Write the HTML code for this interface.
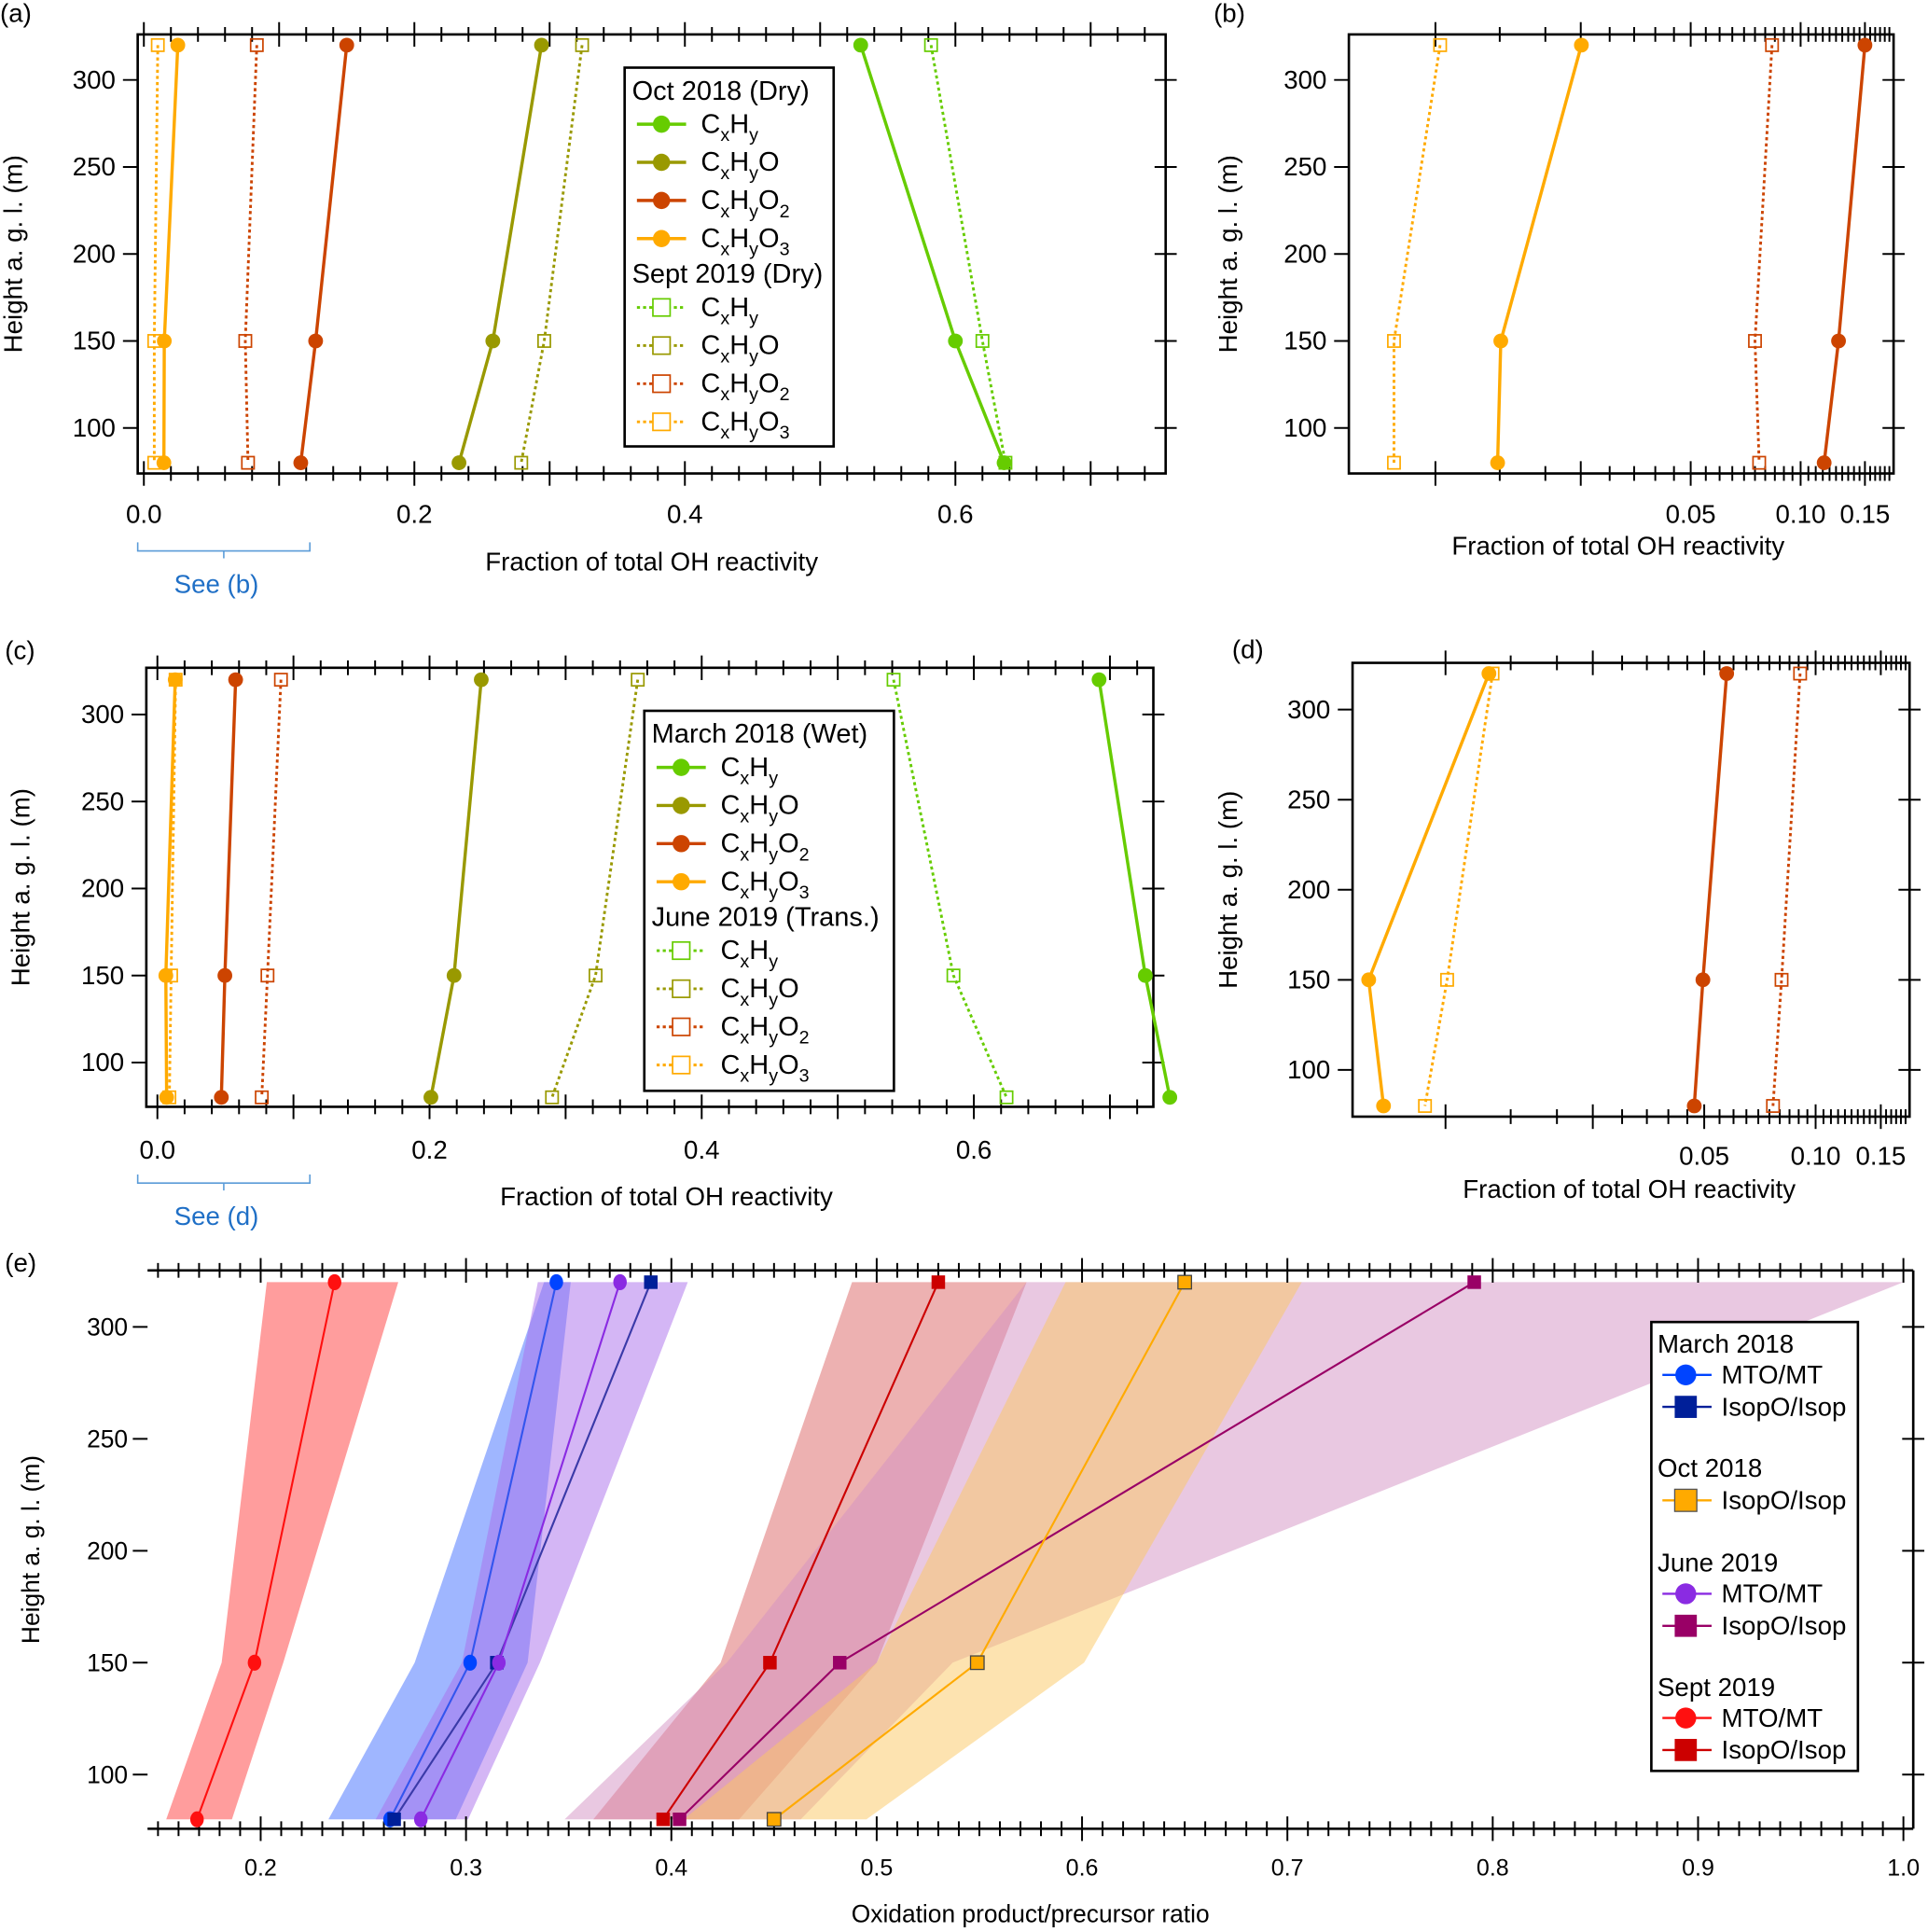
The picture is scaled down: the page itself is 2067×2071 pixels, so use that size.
<!DOCTYPE html>
<html><head><meta charset="utf-8"><style>
html,body{margin:0;padding:0;background:#fff}
svg{display:block}
text{font-family:"Liberation Sans",Arial,sans-serif;fill:#000}
</style></head><body>
<svg id="fig" width="2067" height="2071" viewBox="0 0 1568 1571" preserveAspectRatio="none" xmlns="http://www.w3.org/2000/svg"></svg>
<script>
// ---------- data ----------
const heights = [320, 150, 80];
// Panels a/b : Oct 2018 (solid) & Sept 2019 (dotted)
const octCxHy = [0.530, 0.600, 0.636];
const octCxHyO = [0.294, 0.258, 0.233];
const octCxHyO2 = [0.150, 0.127, 0.116];
const octCxHyO3 = [0.0251, 0.0151, 0.0148];
const sepCxHy = [0.582, 0.620, 0.637];
const sepCxHyO = [0.324, 0.296, 0.279];
const sepCxHyO2 = [0.0835, 0.075, 0.077];
const sepCxHyO3 = [0.0103, 0.0077, 0.0077];
// Panels c/d : March 2018 (solid) & June 2019 (dotted)
const marCxHy = [0.692, 0.726, 0.744];
const marCxHyO = [0.238, 0.218, 0.201];
const marCxHyO2 = [0.0575, 0.0496, 0.047];
const marCxHyO3 = [0.0131, 0.0062, 0.0068];
const junCxHy = [0.541, 0.585, 0.624];
const junCxHyO = [0.353, 0.322, 0.290];
const junCxHyO2 = [0.0908, 0.0809, 0.0767];
const junCxHyO3 = [0.0134, 0.0101, 0.0088];
// Panel e : ratios
const marMTO = [0.344, 0.302, 0.263];
const marIsop = [0.390, 0.315, 0.265];
const octIsop = [0.650, 0.549, 0.450];
const junMTO = [0.375, 0.316, 0.278];
const junIsop = [0.791, 0.482, 0.404];
const sepMTO = [0.236, 0.197, 0.169];
const sepIsop = [0.530, 0.448, 0.396];
// uncertainty bands [low], [high]
const sepMTOlo = [0.203, 0.181, 0.154], sepMTOhi = [0.267, 0.211, 0.186];
const marMTOlo = [0.338, 0.275, 0.233], marMTOhi = [0.351, 0.330, 0.295];
const junMTOlo = [0.335, 0.298, 0.256], junMTOhi = [0.408, 0.336, 0.301];
const sepIsoplo = [0.488, 0.424, 0.362], sepIsophi = [0.573, 0.500, 0.433];
const junIsoplo = [0.573, 0.427, 0.348], junIsophi = [1.0, 0.537, 0.463];
const octIsoplo = [0.592, 0.500, 0.406], octIsophi = [0.707, 0.601, 0.495];
const linTicksA = [0, 0.2, 0.4, 0.6];
const logTickLabels = [0.05, 0.10, 0.15];
const yTicks = [100, 150, 200, 250, 300];
const eTicks = [0.2, 0.3, 0.4, 0.5, 0.6, 0.7, 0.8, 0.9, 1.0];

// ---------- helpers ----------
const NS = "http://www.w3.org/2000/svg";
const svg = document.getElementById('fig');
function mk(tag, attrs, parent) {
  const e = document.createElementNS(NS, tag);
  for (const k in attrs) e.setAttribute(k, attrs[k]);
  (parent || svg).appendChild(e);
  return e;
}
function txt(x, y, s, size, anchor, parent, color) {
  const t = mk('text', {x: x, y: y, 'font-size': size, 'text-anchor': anchor || 'middle'}, parent);
  if (color) t.style.fill = color;
  t.textContent = s;
  return t;
}
function chem(x, y, n, size, parent) {
  const t = mk('text', {x: x, y: y, 'font-size': size}, parent);
  const parts = [['C', 0], ['x', 1], ['H', 0], ['y', 1]];
  if (n >= 1) parts.push(['O', 0]);
  if (n >= 2) parts.push([String(n), 1]);
  let shifted = false;
  for (const p of parts) {
    const s = document.createElementNS(NS, 'tspan');
    s.textContent = p[0];
    if (p[1]) {
      s.setAttribute('font-size', size * 0.68);
      if (!shifted) { s.setAttribute('dy', size * 0.3); shifted = true; }
    } else if (shifted) {
      s.setAttribute('dy', -size * 0.3); shifted = false;
    }
    t.appendChild(s);
  }
  return t;
}
const COL = {hy: '#66cc00', o: '#999900', o2: '#cc4400', o3: '#ffaa00'};

function profilePanel(P) {
  const g = mk('g', {});
  
  
  const X = P.x, Y = v => P.y300 + (300 - v) * P.ys;
  for (const t of P.minor) {
    const x = X(t);
    const len = P.isMajor(t) ? 10 : 6;
    mk('line', {x1: x, x2: x, y1: P.top - len, y2: P.top + len, stroke: '#000', 'stroke-width': 1.5}, g);
    mk('line', {x1: x, x2: x, y1: P.bot - len, y2: P.bot + len, stroke: '#000', 'stroke-width': 1.5}, g);
  }
  for (const h of yTicks) {
    const y = Y(h);
    mk('line', {x1: P.left - 12, x2: P.left, y1: y, y2: y, stroke: '#000', 'stroke-width': 1.5}, g);
    mk('line', {x1: P.right - 9, x2: P.right + 9, y1: y, y2: y, stroke: '#000', 'stroke-width': 1.5}, g);
    const lab = txt(P.left - 18, y + 7, String(h), 21, 'end', g);
    
    
  }
  for (const t of P.labels) {
    const lab = txt(X(t), P.labY, P.fmt(t), 21, 'middle', g);
    
    
  }
  const frame = mk('rect', {x: P.left, y: P.top, width: P.right - P.left, height: P.bot - P.top, fill: 'none', stroke: '#000', 'stroke-width': 2}, g);
  
  
  const yl = txt(0, 0, 'Height a. g. l. (m)', 21, 'middle', g);
  yl.setAttribute('transform', `translate(${P.ylx},${(P.top + P.bot) / 2}) rotate(-90)`);
  
  
  const xl = txt(P.xlx, P.xly, 'Fraction of total OH reactivity', 21, 'middle', g);
  
  
  const pl = txt(P.plx, P.ply, P.plabel, 21, 'start', g);
  
  
  for (const s of P.series) {
    const pts = s.v.map((v, i) => [X(v), Y(heights[i])]);
    const line = mk('polyline', {points: pts.map(p => p.join(',')).join(' '), fill: 'none', stroke: s.c, 'stroke-width': s.dot ? 2.2 : 2.6, 'stroke-dasharray': s.dot ? '2.5,2.5' : 'none'}, g);
    
    
    for (const p of pts) {
      let m;
      if (s.dot) m = mk('rect', {x: p[0] - 5, y: p[1] - 5, width: 10, height: 10, fill: 'none', stroke: s.c, 'stroke-width': 1.3}, g);
      else m = mk('circle', {cx: p[0], cy: p[1], r: 6, fill: s.c}, g);
      
      
    }
  }
  return g;
}
function legendProfile(x, y, w, h, t1, t2, dy) {
  const g = mk('g', {});
  
  
  mk('rect', {x: x, y: y, width: w, height: h, fill: '#fff', stroke: '#000', 'stroke-width': 2}, g);
  const cols = [COL.hy, COL.o, COL.o2, COL.o3];
  let yy = y + 26;
  [[t1, false], [t2, true]].forEach(([title, dot]) => {
    const tt = txt(x + 6, yy, title, 22, 'start', g);
    
    
    yy += dy;
    for (let i = 0; i < 4; i++) {
      const ly = yy - 7;
      mk('line', {x1: x + 10, x2: x + 50, y1: ly, y2: ly, stroke: cols[i], 'stroke-width': dot ? 2.2 : 2.6, 'stroke-dasharray': dot ? '2.5,2.5' : 'none'}, g);
      if (dot) mk('rect', {x: x + 23, y: ly - 7, width: 14, height: 14, fill: '#fff', stroke: cols[i], 'stroke-width': 1.3}, g);
      else mk('circle', {cx: x + 30, cy: ly, r: 7, fill: cols[i]}, g);
      const c = chem(x + 62, yy, i, 22, g);
      
      
      yy += 31;
    }
    yy -= 2;
  });
}
function bracket(x1, x2, y, label, ty) {
  const g = mk('g', {});
  
  
  const xm = (x1 + x2) / 2;
  mk('path', {d: `M${x1},${y - 7} L${x1},${y} L${x2},${y} L${x2},${y - 7} M${xm},${y} L${xm},${y + 6}`, fill: 'none', stroke: '#5a9bd8', 'stroke-width': 1.2}, g);
  txt(xm - 6, ty, label, 21, 'middle', g, '#1f6fc6');
}

// ---------- panels a/c ----------
const minorLin = []; for (let i = 0; i <= 37; i++) minorLin.push(+(i * 0.02).toFixed(2));
const isMajLin = t => Math.abs(t * 10 - Math.round(t * 10)) < 1e-6;
const fmt1 = t => t.toFixed(1);
const xa = v => 117 + v * 1100;
profilePanel({name: 'panel-a', x: xa, y300: 65, ys: 1.415, left: 112, right: 948, top: 28, bot: 385,
  minor: minorLin, isMajor: isMajLin, labels: linTicksA, fmt: fmt1, labY: 425, ylx: 18, xlx: 530, xly: 464, plx: 0, ply: 18, plabel: '(a)',
  series: [
    {n: 'sept2019-cxhy', v: sepCxHy, c: COL.hy, dot: true}, {n: 'sept2019-cxhyo', v: sepCxHyO, c: COL.o, dot: true},
    {n: 'sept2019-cxhyo2', v: sepCxHyO2, c: COL.o2, dot: true}, {n: 'sept2019-cxhyo3', v: sepCxHyO3, c: COL.o3, dot: true},
    {n: 'oct2018-cxhy', v: octCxHy, c: COL.hy}, {n: 'oct2018-cxhyo', v: octCxHyO, c: COL.o},
    {n: 'oct2018-cxhyo2', v: octCxHyO2, c: COL.o2}, {n: 'oct2018-cxhyo3', v: octCxHyO3, c: COL.o3}]});
legendProfile(508, 55, 170, 308, 'Oct 2018 (Dry)', 'Sept 2019 (Dry)', 27);
bracket(112, 252, 448, 'See (b)', 482);

const xc = v => 128 + v * 1106.7;
profilePanel({name: 'panel-c', x: xc, y300: 581, ys: 1.415, left: 119, right: 938, top: 543, bot: 900,
  minor: minorLin.filter(t => t <= 0.73), isMajor: isMajLin, labels: linTicksA, fmt: fmt1, labY: 942, ylx: 24, xlx: 542, xly: 980, plx: 4, ply: 536, plabel: '(c)',
  series: [
    {n: 'june2019-cxhy', v: junCxHy, c: COL.hy, dot: true}, {n: 'june2019-cxhyo', v: junCxHyO, c: COL.o, dot: true},
    {n: 'june2019-cxhyo2', v: junCxHyO2, c: COL.o2, dot: true}, {n: 'june2019-cxhyo3', v: junCxHyO3, c: COL.o3, dot: true},
    {n: 'march2018-cxhy', v: marCxHy, c: COL.hy}, {n: 'march2018-cxhyo', v: marCxHyO, c: COL.o},
    {n: 'march2018-cxhyo2', v: marCxHyO2, c: COL.o2}, {n: 'march2018-cxhyo3', v: marCxHyO3, c: COL.o3}]});
legendProfile(524, 578, 203, 309, 'March 2018 (Wet)', 'June 2019 (Trans.)', 27);
bracket(112, 252, 962, 'See (d)', 996);

// ---------- panels b/d (log) ----------
const logMinor = []; for (let i = 2; i <= 35; i++) logMinor.push(+(i * 0.005).toFixed(3));
const isMajLog = t => [0.01, 0.025, 0.05, 0.1, 0.15].some(m => Math.abs(m - t) < 1e-6);
const fmt2 = t => t.toFixed(2);
const xb = v => 1375 + 297 * (Math.log10(v) - Math.log10(0.05));
profilePanel({name: 'panel-b', x: xb, y300: 65, ys: 1.415, left: 1097, right: 1540, top: 28, bot: 385,
  minor: logMinor, isMajor: isMajLog, labels: logTickLabels, fmt: fmt2, labY: 425, ylx: 1006, xlx: 1316, xly: 451, plx: 987, ply: 18, plabel: '(b)',
  series: [
    {n: 'sept2019-cxhyo2', v: sepCxHyO2, c: COL.o2, dot: true}, {n: 'sept2019-cxhyo3', v: sepCxHyO3, c: COL.o3, dot: true},
    {n: 'oct2018-cxhyo2', v: octCxHyO2, c: COL.o2}, {n: 'oct2018-cxhyo3', v: octCxHyO3, c: COL.o3}]});
const xd = v => 1386 + 301 * (Math.log10(v) - Math.log10(0.05));
profilePanel({name: 'panel-d', x: xd, y300: 577, ys: 1.465, left: 1100, right: 1553, top: 539, bot: 908,
  minor: logMinor, isMajor: isMajLog, labels: logTickLabels, fmt: fmt2, labY: 947, ylx: 1006, xlx: 1325, xly: 974, plx: 1002, ply: 535, plabel: '(d)',
  series: [
    {n: 'june2019-cxhyo2', v: junCxHyO2, c: COL.o2, dot: true}, {n: 'june2019-cxhyo3', v: junCxHyO3, c: COL.o3, dot: true},
    {n: 'march2018-cxhyo2', v: marCxHyO2, c: COL.o2}, {n: 'march2018-cxhyo3', v: marCxHyO3, c: COL.o3}]});

// ---------- panel e ----------
(function () {
  const g = mk('g', {});
  
  
  const X = v => -122 + v * 1670, Y = h => 1079 + (300 - h) * 1.82;
  const L = 120, R = 1556, T = 1033, B = 1487;
  function band(lo, hi, fill, name) {
    const pts = lo.map((v, i) => [X(v), Y(heights[i])]).concat(hi.map((v, i) => [X(v), Y(heights[i])]).reverse());
    const p = mk('polygon', {points: pts.map(q => q.join(',')).join(' '), fill: fill}, g);
    
    
  }
  band(sepMTOlo, sepMTOhi, 'rgba(255,60,60,0.5)', 'sept2019-mto-band');
  band(marMTOlo, marMTOhi, 'rgba(64,110,255,0.5)', 'march2018-mto-band');
  band(junMTOlo, junMTOhi, 'rgba(170,110,235,0.5)', 'june2019-mto-band');
  band(sepIsoplo, sepIsophi, 'rgba(220,100,100,0.5)', 'sept2019-isop-band');
  band(junIsoplo, junIsophi, 'rgba(212,145,196,0.5)', 'june2019-isop-band');
  band(octIsoplo, octIsophi, 'rgba(251,200,97,0.5)', 'oct2018-isop-band');
  for (let i = 15; i <= 100; i++) {
    const t = i / 100, x = X(t), maj = i % 10 === 0, len = maj ? 10 : 6;
    mk('line', {x1: x, x2: x, y1: T - len, y2: T + len, stroke: '#000', 'stroke-width': 1.5}, g);
    mk('line', {x1: x, x2: x, y1: B - len, y2: B + len, stroke: '#000', 'stroke-width': 1.5}, g);
  }
  for (const t of eTicks) {
    const lab = txt(X(t), 1525, t.toFixed(1), 19, 'middle', g);
    
    
  }
  for (const h of yTicks) {
    const y = Y(h);
    mk('line', {x1: L - 12, x2: L, y1: y, y2: y, stroke: '#000', 'stroke-width': 1.5}, g);
    mk('line', {x1: R - 9, x2: R + 9, y1: y, y2: y, stroke: '#000', 'stroke-width': 1.5}, g);
    const lab = txt(L - 16, y + 7, String(h), 20, 'end', g);
    
    
  }
  mk('line', {x1: L, x2: R, y1: T, y2: T, stroke: '#000', 'stroke-width': 2}, g);
  mk('line', {x1: L, x2: R, y1: B, y2: B, stroke: '#000', 'stroke-width': 2}, g);
  mk('line', {x1: R, x2: R, y1: T, y2: B, stroke: '#000', 'stroke-width': 2}, g);
  const series = [
    {n: 'sept2019-mto', v: sepMTO, c: '#ff1010', sq: false},
    {n: 'march2018-mto', v: marMTO, c: '#3355ee', mc: '#0044ff', sq: false},
    {n: 'march2018-isop', v: marIsop, c: '#3a3aa8', mc: '#001f99', sq: true},
    {n: 'june2019-mto', v: junMTO, c: '#8a2be2', sq: false},
    {n: 'june2019-isop', v: junIsop, c: '#990066', sq: true},
    {n: 'oct2018-isop', v: octIsop, c: '#ffaa00', sq: true, outline: true},
    {n: 'sept2019-isop', v: sepIsop, c: '#cc0000', sq: true}];
  for (const s of series) {
    const pts = s.v.map((v, i) => [X(v), Y(heights[i])]);
    const line = mk('polyline', {points: pts.map(p => p.join(',')).join(' '), fill: 'none', stroke: s.c, 'stroke-width': 1.6}, g);
    
    
    for (const p of pts) {
      let m;
      if (s.sq) m = mk('rect', {x: p[0] - 5.5, y: p[1] - 5.5, width: 11, height: 11, fill: s.mc || s.c, stroke: s.outline ? '#444' : 'none', 'stroke-width': 1}, g);
      else m = mk('ellipse', {cx: p[0], cy: p[1], rx: 5.5, ry: 6.5, fill: s.mc || s.c}, g);
      
      
    }
  }
  const yl = txt(0, 0, 'Height a. g. l. (m)', 20, 'middle', g);
  yl.setAttribute('transform', `translate(32,${(T + B) / 2}) rotate(-90)`);
  
  
  const xl = txt(838, 1563, 'Oxidation product/precursor ratio', 20, 'middle', g);
  
  
  const pl = txt(4, 1034, '(e)', 21, 'start', g);
  
  
  const lg = mk('g', {}, g);
  
  
  mk('rect', {x: 1343, y: 1075, width: 168, height: 365, fill: '#fff', stroke: '#000', 'stroke-width': 2}, lg);
  const items = [
    ['March 2018', 1100], ['MTO/MT', 1125, '#0044ff', false, '#0044ff'], ['IsopO/Isop', 1151, '#001f99', true, '#001f99'],
    ['Oct 2018', 1201], ['IsopO/Isop', 1227, '#ffaa00', true, '#ffaa00'],
    ['June 2019', 1278], ['MTO/MT', 1303, '#8a2be2', false, '#8a2be2'], ['IsopO/Isop', 1329, '#990066', true, '#990066'],
    ['Sept 2019', 1379], ['MTO/MT', 1404, '#ff1010', false, '#ff1010'], ['IsopO/Isop', 1430, '#cc0000', true, '#cc0000']];
  for (const it of items) {
    if (!it[2]) {
      const t = txt(1348, it[1], it[0], 21, 'start', lg);
      
      
      continue;
    }
    const ly = it[1] - 7;
    mk('line', {x1: 1352, x2: 1392, y1: ly, y2: ly, stroke: it[2], 'stroke-width': 1.8}, lg);
    if (it[3]) mk('rect', {x: 1362, y: ly - 9, width: 18, height: 18, fill: it[4], stroke: it[4] === '#ffaa00' ? '#555' : 'none'}, lg);
    else mk('circle', {cx: 1371, cy: ly, r: 8.5, fill: it[4]}, lg);
    const t = txt(1400, it[1], it[0], 21, 'start', lg);
    
    
  }
})();
</script>
</body></html>
